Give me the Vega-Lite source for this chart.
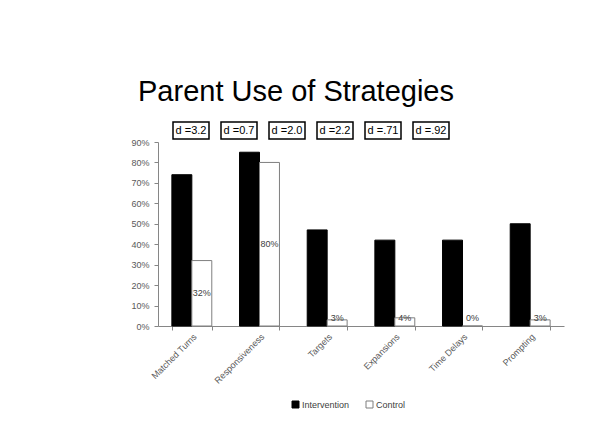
{
  "$schema": "https://vega.github.io/schema/vega-lite/v6.json",
  "width": 406,
  "height": 184,
  "autosize": {"type": "none"},
  "padding": {"left": 158, "top": 142, "right": 28, "bottom": 118},
  "background": "white",
  "config": {
    "view": {"stroke": null},
    "font": "Liberation Sans",
    "axis": {"labelFont": "Liberation Sans", "labelColor": "#595959", "labelFontSize": 9, "domainColor": "#868686", "tickColor": "#868686", "grid": false}
  },
  "title": {
    "text": "Parent Use of Strategies",
    "fontSize": 29,
    "fontWeight": "normal",
    "font": "Liberation Sans",
    "color": "#000000",
    "anchor": "middle",
    "dx": -65,
    "offset": 12
  },
  "datasets": {
    "bars": [
      {"category": "Matched Turns", "series": "Intervention", "value": 0.74, "label": ""},
      {"category": "Matched Turns", "series": "Control", "value": 0.32, "label": "32%"},
      {"category": "Responsiveness", "series": "Intervention", "value": 0.85, "label": ""},
      {"category": "Responsiveness", "series": "Control", "value": 0.80, "label": "80%"},
      {"category": "Targets", "series": "Intervention", "value": 0.47, "label": ""},
      {"category": "Targets", "series": "Control", "value": 0.03, "label": "3%"},
      {"category": "Expansions", "series": "Intervention", "value": 0.42, "label": ""},
      {"category": "Expansions", "series": "Control", "value": 0.04, "label": "4%"},
      {"category": "Time Delays", "series": "Intervention", "value": 0.42, "label": ""},
      {"category": "Time Delays", "series": "Control", "value": 0.0, "label": "0%"},
      {"category": "Prompting", "series": "Intervention", "value": 0.50, "label": ""},
      {"category": "Prompting", "series": "Control", "value": 0.03, "label": "3%"}
    ],
    "effects": [
      {"category": "Matched Turns", "d": "d =3.2"},
      {"category": "Responsiveness", "d": "d =0.7"},
      {"category": "Targets", "d": "d =2.0"},
      {"category": "Expansions", "d": "d =2.2"},
      {"category": "Time Delays", "d": "d =.71"},
      {"category": "Prompting", "d": "d =.92"}
    ]
  },
  "layer": [
    {
      "layer": [
        {
          "data": {"name": "bars"},
          "mark": {"type": "bar", "strokeWidth": 1},
          "encoding": {
            "x": {
              "field": "category", "type": "nominal", "sort": null,
              "scale": {"paddingInner": 0.41, "paddingOuter": 0.205},
              "axis": {"title": null, "labelAngle": -45, "tickBand": "extent", "tickSize": 4, "labelPadding": 2, "labelFontSize": 9}
            },
            "xOffset": {"field": "series", "type": "nominal", "sort": ["Intervention", "Control"], "scale": {"domain": ["Intervention", "Control"]}},
            "y": {
              "field": "value", "type": "quantitative",
              "scale": {"domain": [0, 0.9], "nice": false},
              "axis": {"title": null, "format": ".0%", "values": [0, 0.1, 0.2, 0.3, 0.4, 0.5, 0.6, 0.7, 0.8, 0.9], "tickSize": 4, "labelPadding": 5}
            },
            "fill": {
              "field": "series", "type": "nominal", "sort": ["Intervention", "Control"],
              "scale": {"domain": ["Intervention", "Control"], "range": ["#000000", "#ffffff"]},
              "legend": {
                "title": null, "orient": "none", "direction": "horizontal",
                "legendX": 133, "legendY": 258,
                "symbolType": "square", "symbolSize": 49, "symbolStrokeColor": "#7f7f7f", "symbolStrokeWidth": 1,
                "labelFontSize": 9, "labelColor": "#404040", "columnPadding": 14, "labelOffset": 2
              }
            },
            "stroke": {
              "field": "series", "type": "nominal",
              "scale": {"domain": ["Intervention", "Control"], "range": ["#000000", "#7f7f7f"]},
              "legend": null
            }
          }
        },
        {
          "data": {"name": "bars"},
          "transform": [
            {"filter": "datum.series === 'Control'"},
            {"calculate": "max(datum.value / 2, 0.04)", "as": "mid"}
          ],
          "mark": {"type": "text", "fontSize": 9, "color": "#404040", "baseline": "middle"},
          "encoding": {
            "x": {"field": "category", "type": "nominal", "sort": null, "axis": {"title": null, "labelAngle": -45, "tickBand": "extent", "tickSize": 4, "labelPadding": 2, "labelFontSize": 9}},
            "xOffset": {"field": "series", "type": "nominal", "sort": ["Intervention", "Control"], "scale": {"domain": ["Intervention", "Control"]}},
            "y": {"field": "mid", "type": "quantitative", "axis": {"title": null, "format": ".0%", "values": [0, 0.1, 0.2, 0.3, 0.4, 0.5, 0.6, 0.7, 0.8, 0.9], "tickSize": 4, "labelPadding": 5}},
            "text": {"field": "label"}
          }
        }
      ]
    },
    {
      "data": {"name": "effects"},
      "layer": [
        {
          "mark": {"type": "point", "shape": "M-1,-0.47H1V0.47H-1Z", "size": 1296, "filled": true, "fill": "white", "stroke": "black", "strokeWidth": 1.5, "opacity": 1},
          "encoding": {
            "x": {"field": "category", "type": "nominal", "sort": null, "scale": {"type": "point", "range": [9, 297]}, "axis": null},
            "y": {"datum": 0.956, "type": "quantitative", "axis": {"title": null, "format": ".0%", "values": [0, 0.1, 0.2, 0.3, 0.4, 0.5, 0.6, 0.7, 0.8, 0.9], "tickSize": 4, "labelPadding": 5}}
          }
        },
        {
          "mark": {"type": "text", "fontSize": 11, "color": "black", "baseline": "middle", "font": "Liberation Sans"},
          "encoding": {
            "x": {"field": "category", "type": "nominal", "sort": null, "scale": {"type": "point", "range": [9, 297]}, "axis": null},
            "y": {"datum": 0.956, "type": "quantitative", "axis": {"title": null, "format": ".0%", "values": [0, 0.1, 0.2, 0.3, 0.4, 0.5, 0.6, 0.7, 0.8, 0.9], "tickSize": 4, "labelPadding": 5}},
            "text": {"field": "d"}
          }
        }
      ]
    }
  ],
  "resolve": {"scale": {"x": "independent"}}
}
